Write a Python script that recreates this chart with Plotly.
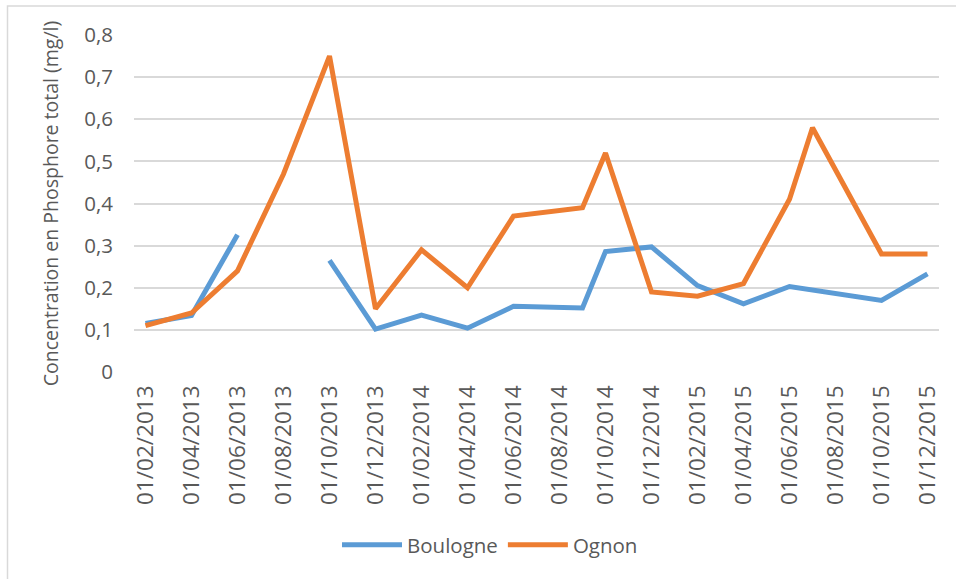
import pandas as pd
import plotly.graph_objects as go

# Monthly sampling dates (YYYY-MM) and total phosphorus concentrations (mg/l)
boulogne_dates = ["2013-02", "2013-04", "2013-06", "2013-08", "2013-10", "2013-12",
                  "2014-02", "2014-04", "2014-06", "2014-09", "2014-10", "2014-12",
                  "2015-02", "2015-04", "2015-06", "2015-07", "2015-10", "2015-12"]
boulogne_values = [0.115, 0.134, 0.326, None, 0.265, 0.102,
                   0.135, 0.104, 0.156, 0.152, 0.286, 0.297,
                   0.205, 0.162, 0.203, 0.195, 0.170, 0.233]

ognon_dates = ["2013-02", "2013-04", "2013-06", "2013-08", "2013-10", "2013-12",
               "2014-02", "2014-04", "2014-06", "2014-09", "2014-10", "2014-12",
               "2015-02", "2015-04", "2015-06", "2015-07", "2015-10", "2015-12"]
ognon_values = [0.11, 0.14, 0.24, 0.47, 0.75, 0.15,
                0.29, 0.20, 0.37, 0.39, 0.52, 0.19,
                0.18, 0.21, 0.41, 0.58, 0.28, 0.28]

y_ticks = [0, 0.1, 0.2, 0.3, 0.4, 0.5, 0.6, 0.7, 0.8]
y_ticktext = ["0", "0,1", "0,2", "0,3", "0,4", "0,5", "0,6", "0,7", "0,8"]

# Month axis: one slot per month, labelled every second month
months = [d.strftime("%Y-%m") for d in pd.date_range("2013-02-01", "2015-12-01", freq="MS")]
tick_months = months[::2]
tick_labels = [pd.Timestamp(m + "-01").strftime("%d/%m/%Y") for m in tick_months]

FONT = "Open Sans"
TEXT = "#595959"
GRID = "#d9d9d9"

fig = go.Figure()
fig.add_trace(go.Scatter(x=boulogne_dates, y=boulogne_values, name="Boulogne",
                         mode="lines", connectgaps=False,
                         line=dict(color="#5b9bd5", width=5)))
fig.add_trace(go.Scatter(x=ognon_dates, y=ognon_values, name="Ognon",
                         mode="lines",
                         line=dict(color="#ed7d31", width=5)))

W, H = 956, 579
L, R, T, B = 134, 17, 35, 207
pw, ph = W - L - R, H - T - B

# Chart frame
fig.add_shape(type="rect", xref="paper", yref="paper",
              x0=(7.5 - L) / pw, x1=(W + 20 - L) / pw,
              y0=(H - B - (H + 20)) / ph, y1=(H - B - 6) / ph,
              line=dict(color=GRID, width=1.5), fillcolor="rgba(0,0,0,0)", layer="below")

fig.update_layout(
    width=W, height=H,
    margin=dict(l=L, r=R, t=T, b=B),
    paper_bgcolor="white", plot_bgcolor="white",
    font=dict(family=FONT, color=TEXT, size=20),
    showlegend=True,
    legend=dict(orientation="h", x=(490 - L) / pw, xanchor="center",
                y=(H - B - 545) / ph, yanchor="middle",
                font=dict(size=20.5, color=TEXT), itemwidth=60,
                bgcolor="rgba(0,0,0,0)"),
)
fig.update_xaxes(type="category", categoryorder="array", categoryarray=months,
                 range=[-0.5, len(months) - 0.5],
                 tickmode="array", tickvals=tick_months, ticktext=tick_labels,
                 tickangle=-90, tickfont=dict(size=22.5, color=TEXT),
                 showgrid=False, showline=False, zeroline=False, ticks="",
                 ticklabelstandoff=8)
fig.update_yaxes(range=[0, 0.8], tickmode="array", tickvals=y_ticks, ticktext=y_ticktext,
                 showgrid=True, gridcolor=GRID, gridwidth=1.5,
                 zeroline=False, showline=False, ticks="",
                 tickfont=dict(size=20.5, color=TEXT), ticklabelstandoff=20,
                 title=dict(text="Concentration en Phosphore total (mg/l)",
                            font=dict(size=19.5, color=TEXT), standoff=20))

fig.write_html("out.html")
